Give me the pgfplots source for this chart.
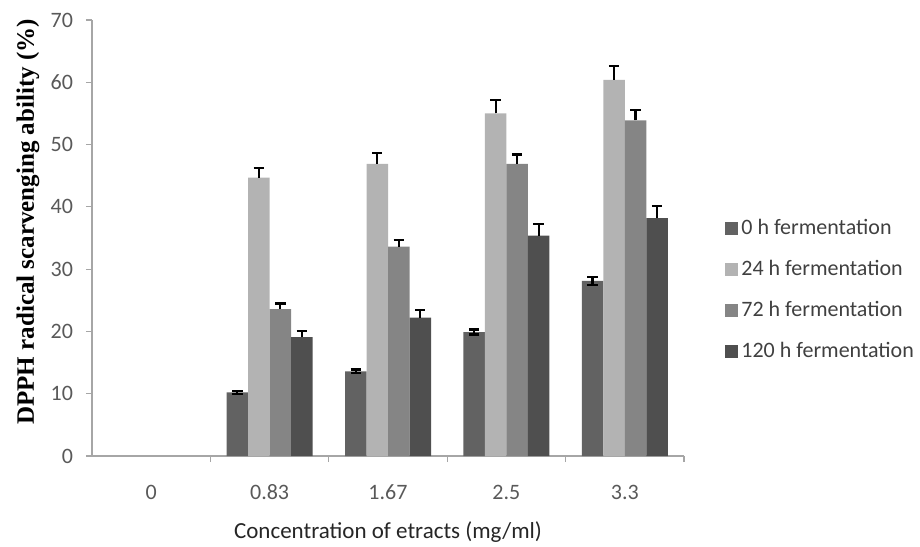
\documentclass[border=0pt]{standalone}
\usepackage{pgfplots}
\usepackage{pgfplotstable}
\pgfplotsset{compat=1.18}
\usepackage{fontspec}
\setmainfont{Carlito}
\newfontfamily\timesb{Liberation Serif}
\definecolor{c0}{HTML}{626262}
\definecolor{c24}{HTML}{B3B3B3}
\definecolor{c72}{HTML}{858585}
\definecolor{c120}{HTML}{4F4F4F}
\definecolor{axgray}{HTML}{A6A6A6}
\definecolor{labgray}{HTML}{595959}
\pgfplotstableread{
x v0 e0 v24 e24 v72 e72 v120 e120
1 10.2 0.3 44.7 1.6 23.6 0.9 19.1 1.0
2 13.6 0.3 46.9 1.8 33.6 1.1 22.2 1.2
3 19.9 0.4 55.0 2.1 46.9 1.5 35.4 1.8
4 28.1 0.6 60.4 2.2 53.9 1.6 38.2 2.0
}\data
\begin{document}
\begin{tikzpicture}[x=1pt,y=1pt]
\useasboundingbox (0,0) rectangle (460,273);
\begin{axis}[
  at={(46pt,45pt)}, anchor=south west,
  scale only axis, width=296pt, height=218pt,
  xmin=-0.5, xmax=4.5, ymin=0, ymax=70,
  axis x line=bottom, axis y line=left,
  axis line style={draw=axgray, line width=0.6pt, -},
  tick style={draw=axgray, line width=0.6pt},
  tick align=outside,
  major tick length=3pt,
  ytick={0,10,...,70},
  xtick={0.5,1.5,2.5,3.5,4.5}, xticklabels={},
  extra x ticks={0,1,2,3,4},
  extra x tick labels={0,0.83,1.67,2.5,3.3},
  extra x tick style={major tick length=0pt, xticklabel style={anchor=center, yshift=-18pt}},
  /pgf/number format/assume math mode=true,
  ticklabel style={font=\fontsize{11}{12}\selectfont, text=labgray},
  yticklabel style={anchor=east, xshift=-3pt},
  ybar=0pt, bar width=10.75pt,
  ylabel={\timesb\bfseries DPPH radical scarvenging ability (\%)},
  ylabel style={at={(axis description cs:-0.108,0.537)}, anchor=center, font=\fontsize{12.5}{14}\selectfont},
  xlabel={Concentration of etracts (mg/ml)},
  xlabel style={at={(axis description cs:0.5,-0.174)}, anchor=center, font=\fontsize{11.5}{13}\selectfont, text=black!85},
  legend style={at={(axis description cs:1.058,0.38)}, anchor=west, draw=none, fill=none,
    font=\fontsize{11}{13}\selectfont, text=black!75, row sep=10.5pt,
    nodes={inner sep=0pt, text height=8pt, text depth=2pt}},
  legend cell align=left,
  error bars/error bar style={line width=1.1pt, black},
  error bars/error mark options={rotate=90, line width=1.1pt, mark size=2.6pt, black},
]
\addplot[fill=c0, draw=none, legend image code/.code={\fill[c0] (0pt,-3pt) rectangle (6.5pt,3.5pt);},
  error bars/.cd, y dir=both, y explicit] table[x=x, y=v0, y error=e0] {\data};
\addlegendentry{\,0 h fermentation}
\addplot[fill=c24, draw=none, legend image code/.code={\fill[c24] (0pt,-3pt) rectangle (6.5pt,3.5pt);},
  error bars/.cd, y dir=plus, y explicit] table[x=x, y=v24, y error=e24] {\data};
\addlegendentry{\,24 h fermentation}
\addplot[fill=c72, draw=none, legend image code/.code={\fill[c72] (0pt,-3pt) rectangle (6.5pt,3.5pt);},
  error bars/.cd, y dir=plus, y explicit] table[x=x, y=v72, y error=e72] {\data};
\addlegendentry{\,72 h fermentation}
\addplot[fill=c120, draw=none, legend image code/.code={\fill[c120] (0pt,-3pt) rectangle (6.5pt,3.5pt);},
  error bars/.cd, y dir=plus, y explicit] table[x=x, y=v120, y error=e120] {\data};
\addlegendentry{\,120 h fermentation}
\end{axis}
\end{tikzpicture}
\end{document}
